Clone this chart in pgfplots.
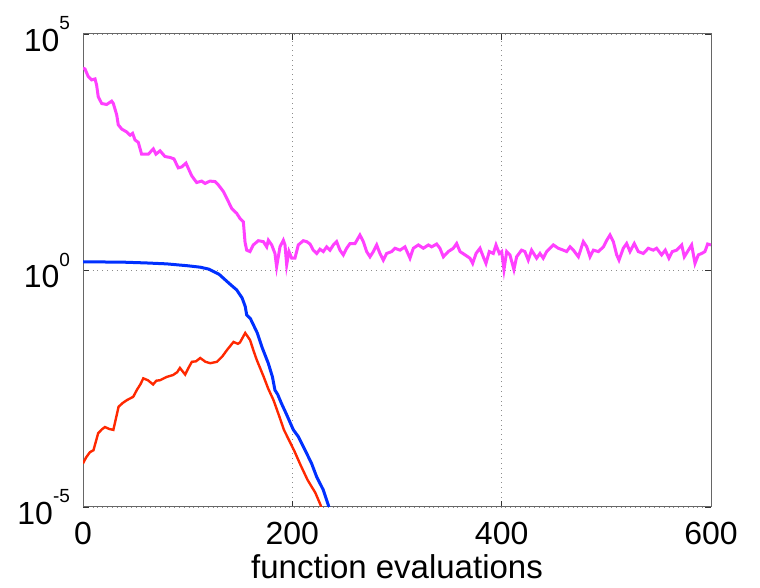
\documentclass[border=0pt]{standalone}
\usepackage{fontspec}
\setmainfont{Liberation Sans}
\usepackage{pgfplots}
\pgfplotsset{compat=1.18}
\definecolor{mmag}{RGB}{255,64,255}
\definecolor{mblue}{RGB}{0,48,255}
\definecolor{mred}{RGB}{255,40,0}
\newcommand{\pw}[1]{10\raisebox{0.68em}{\fontsize{9.5}{10}\selectfont #1}}
\begin{document}
\begin{tikzpicture}
\path[use as bounding box] (0,0) rectangle (380pt,294pt);
\begin{axis}[
  at={(41.5pt,40.5pt)}, anchor=south west,
  scale only axis, width=314pt, height=236.5pt,
  xmin=0, xmax=600, ymin=-5, ymax=5,
  xtick={0,200,400,600}, xticklabels={0,200,400,600},
  ytick={-5,0,5}, yticklabels={\pw{-5},\pw{0},\pw{5}},
  tick align=inside, major tick length=3pt,
  tick style={black!80, line width=0.4pt},
  axis line style={black!60, line width=0.5pt},
  grid=major, major grid style={black!45, dotted, line width=0.4pt},
  ticklabel style={font=\fontsize{16}{19}\selectfont},
  xticklabel style={yshift=-4pt},
  yticklabel style={xshift=-3pt},
  xlabel={function evaluations},
  xlabel style={font=\fontsize{16.5}{19}\selectfont, yshift=2pt},
  clip=true,
]
\addplot[mmag, line width=1.5pt] coordinates {
(0,4.28) (1.9,4.26) (5,4.10) (8.3,4.03) (11.5,4.05) (13,3.92) (14.6,3.67) (17.9,3.53) (22.6,3.51) (27.4,3.58) (29,3.53) (32.2,3.29) (33.7,3.08) (37,2.99) (41.7,2.93) (45,2.86) (47.4,2.90) (49.7,2.76) (52.8,2.71) (56,2.46) (62.4,2.46) (67.2,2.57) (69.7,2.46) (73.6,2.53) (78.3,2.41) (83.1,2.39) (86.9,2.36) (91,2.17) (94.3,2.19) (98.4,2.27) (100.6,2.16) (103.9,2.00) (108.6,1.86) (113.4,1.89) (116.6,1.84) (121.3,1.89) (126.1,1.88) (129.3,1.81) (134.1,1.67) (137.3,1.53) (142.1,1.31) (146.8,1.21) (150,1.10) (153.2,1.03) (154.8,0.60) (156.4,0.43) (159.5,0.40) (162.7,0.54) (167.5,0.63) (172.3,0.61) (175.5,0.50) (177.1,0.64) (180.3,0.54) (183.4,0.36) (185,0.08) (188.2,0.50) (191.4,0.64) (193,0.54) (194.6,0.12) (196.8,0.40) (199.4,0.26) (202.5,0.26) (205.7,0.54) (210.5,0.63) (213.7,0.61) (216.9,0.56) (220,0.43) (223.3,0.36) (226.4,0.45) (229.6,0.40) (232.8,0.50) (236,0.43) (239.2,0.54) (242.3,0.61) (245.5,0.43) (248.7,0.33) (251.9,0.47) (255.1,0.57) (259.9,0.57) (264.6,0.75) (267.8,0.61) (271,0.40) (274.2,0.29) (277.4,0.40) (280.6,0.54) (283.7,0.36) (286.9,0.22) (290.1,0.36) (294.9,0.40) (298.1,0.47) (302.9,0.43) (307.6,0.50) (312.4,0.26) (315.6,0.47) (320.4,0.54) (325.2,0.47) (330,0.54) (333.1,0.50) (337.9,0.56) (341,0.47) (344.3,0.29) (349,0.40) (353.8,0.47) (357,0.57) (360.2,0.40) (365,0.33) (369.7,0.26) (372.3,0.15) (375.5,0.36) (379.3,0.47) (382.4,0.29) (385,0.15) (388.2,0.40) (392,0.36) (394.6,0.54) (397.8,0.36) (400,0.40) (402.2,0.02) (404.8,0.40) (407.9,0.33) (411.7,0.02) (414.3,0.29) (419,0.43) (422.2,0.40) (425.4,0.22) (428.6,0.43) (433.4,0.26) (436.6,0.36) (439.7,0.26) (443,0.40) (446.2,0.47) (449.4,0.54) (454.1,0.47) (458.9,0.43) (462.1,0.40) (465.3,0.50) (468.5,0.43) (473.3,0.29) (478,0.61) (481.3,0.50) (484.4,0.29) (487.6,0.43) (492.4,0.40) (497.2,0.50) (500.4,0.64) (503.5,0.75) (506.7,0.61) (509.9,0.33) (512.1,0.22) (516.2,0.47) (519.4,0.57) (522.6,0.40) (526.7,0.57) (530.5,0.40) (535.3,0.36) (540.1,0.47) (544.8,0.43) (548,0.47) (552.8,0.33) (556.3,0.43) (559.8,0.26) (563,0.40) (567.2,0.43) (572,0.54) (574.5,0.29) (578.4,0.43) (581.5,0.54) (584.7,0.15) (587.9,0.33) (591.1,0.36) (594.2,0.40) (596.8,0.56) (600,0.54)
};
\addplot[mblue, line width=1.5pt] coordinates {
(0,0.18) (20,0.18) (40,0.175) (60,0.16) (80,0.14) (100,0.10) (112,0.07) (120,0.03) (130,-0.08) (140,-0.28) (146.8,-0.41) (152,-0.58) (155,-0.76) (156.4,-0.94) (160,-1.02) (166.5,-1.32) (171,-1.62) (177,-1.96) (181,-2.25) (183.4,-2.53) (186,-2.62) (189.6,-2.81) (194,-3.02) (198,-3.22) (201,-3.37) (205.7,-3.51) (212,-3.79) (218.4,-4.08) (223.2,-4.36) (229.6,-4.64) (234.4,-4.96) (236,-5.1)
};
\addplot[mred, line width=1.2pt] coordinates {
(0,-4.08) (3,-3.95) (6.7,-3.84) (10,-3.80) (14.5,-3.44) (18,-3.36) (21,-3.31) (25,-3.35) (29,-3.37) (34,-2.88) (38,-2.80) (42,-2.74) (48,-2.67) (51.6,-2.52) (55,-2.40) (57.6,-2.28) (62,-2.32) (67,-2.41) (70,-2.33) (73.6,-2.32) (80,-2.25) (86,-2.21) (90,-2.15) (92.6,-2.06) (97.6,-2.20) (101,-2.05) (104,-1.93) (108,-1.92) (112,-1.85) (117,-1.93) (121.6,-1.96) (128,-1.93) (133,-1.82) (137.6,-1.68) (143.8,-1.51) (148,-1.55) (150,-1.52) (155,-1.32) (159.6,-1.47) (163,-1.70) (166,-1.89) (172.5,-2.24) (177,-2.50) (182,-2.74) (187,-3.05) (192,-3.37) (196,-3.55) (201.6,-3.80) (208,-4.12) (214.6,-4.43) (222,-4.70) (227,-4.96) (229,-5.1)
};
\end{axis}
\end{tikzpicture}
\end{document}
